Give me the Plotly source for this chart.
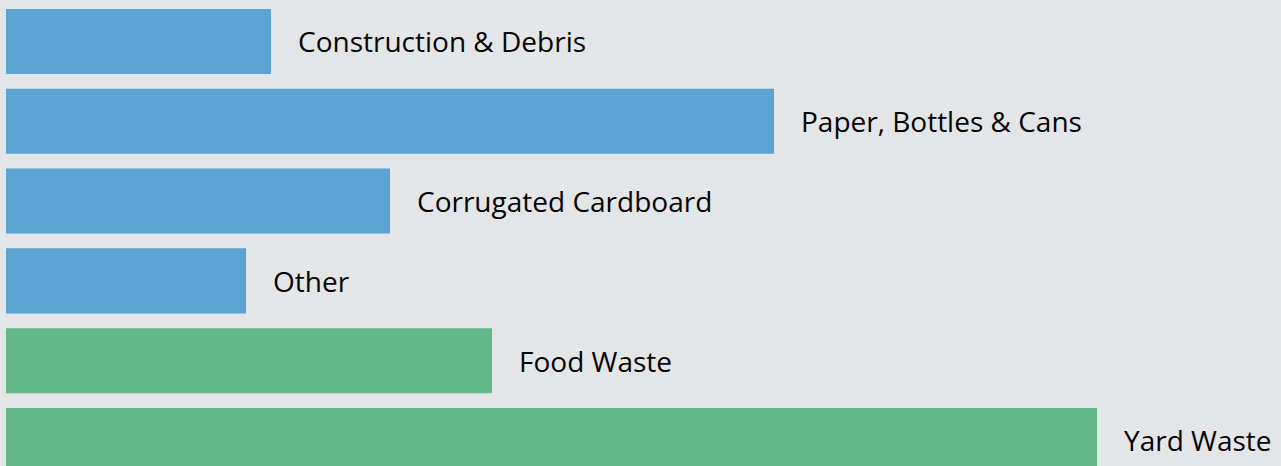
import plotly.graph_objects as go

categories = ["Construction & Debris", "Paper, Bottles & Cans", "Corrugated Cardboard",
              "Other", "Food Waste", "Yard Waste"]
values = [265, 768, 384, 240, 486, 1091]
groups = ["recycle", "recycle", "recycle", "recycle", "organic", "organic"]
group_colors = {"recycle": "#5ba4d4", "organic": "#63b88a"}

colors = [group_colors[g] for g in groups]
ypos = list(range(len(categories)))

fig = go.Figure()
fig.add_trace(go.Bar(
    x=values, y=ypos, orientation="h",
    marker=dict(color=colors, line=dict(width=0)),
    width=0.815, hoverinfo="skip",
))

for yv, v, c in zip(ypos, values, categories):
    fig.add_annotation(x=v, y=yv, text=c, xanchor="left", yanchor="middle",
                       xshift=25, showarrow=False,
                       font=dict(family="Open Sans, sans-serif", size=28,
                                 color="#050505"))

fig.update_layout(
    width=1281, height=466,
    margin=dict(l=0, r=0, t=0, b=0),
    paper_bgcolor="#e4e5e7", plot_bgcolor="#e4e5e7",
    showlegend=False,
    xaxis=dict(range=[-6, 1275], visible=False, fixedrange=True),
    yaxis=dict(range=[5.32, -0.52], visible=False, fixedrange=True),
)

fig.write_html("out.html", config={"displayModeBar": False},
               post_script="document.body.style.margin='0';document.body.style.background='#e4e5e7';")
